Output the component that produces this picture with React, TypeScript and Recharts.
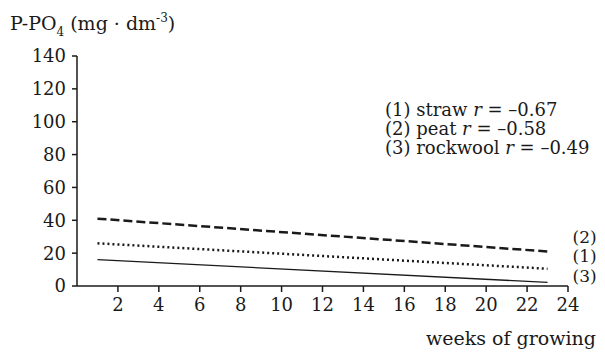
import React from 'react';
import { LineChart, Line, XAxis, YAxis, LabelList } from 'recharts';

const weeks = [1, 23];
const straw = [26, 10.5];
const peat = [41, 21];
const rockwool = [16, 2.2];
const xTicks = [2, 4, 6, 8, 10, 12, 14, 16, 18, 20, 22, 24];
const yTicks = [0, 20, 40, 60, 80, 100, 120, 140];
const legendLines = ['(1) straw', '(2) peat', '(3) rockwool'];
const legendR = ['–0.67', '–0.58', '–0.49'];

const data = weeks.map((w, i) => ({
  week: w,
  straw: straw[i],
  peat: peat[i],
  rockwool: rockwool[i],
}));

const FONT = 'DejaVu Serif';
const INK = '#1a1a1a';
const TICK = 18;
const TEXT = 19;

const endLabel = (text: string, dy: number) => (props: any) => {
  const { x, y, index } = props;
  if (index !== data.length - 1) return null;
  return (
    <text x={x + 25} y={y + dy} fontSize={17} fill={INK} dominantBaseline="middle" style={{ fontFamily: FONT }}>
      {text}
    </text>
  );
};

export default function App() {
  return (
    <div style={{ position: 'absolute', left: 0, top: 0, width: 605, height: 352, background: '#fff', fontFamily: FONT }}>
      <LineChart width={605} height={352} data={data} margin={{ top: 56, right: 37, bottom: 36, left: 0 }}>
        <XAxis
          dataKey="week"
          type="number"
          domain={[0, 24]}
          ticks={xTicks}
          interval={0}
          stroke={INK}
          strokeWidth={1.5}
          tickSize={6}
          tickMargin={6}
          height={30}
          tick={{ fill: INK, fontSize: TICK, style: { fontFamily: FONT } }}
        />
        <YAxis
          type="number"
          domain={[0, 140]}
          ticks={yTicks}
          interval={0}
          width={77}
          stroke={INK}
          strokeWidth={1.5}
          tickSize={5}
          tickMargin={6}
          tick={{ fill: INK, fontSize: TICK, style: { fontFamily: FONT } }}
        />
        <Line dataKey="peat" stroke={INK} strokeWidth={2.5} strokeDasharray="9 4" dot={false} isAnimationActive={false}>
          <LabelList dataKey="peat" content={endLabel('(2)', -13)} />
        </Line>
        <Line dataKey="straw" stroke={INK} strokeWidth={2.5} strokeDasharray="2 3" dot={false} isAnimationActive={false}>
          <LabelList dataKey="straw" content={endLabel('(1)', -11)} />
        </Line>
        <Line dataKey="rockwool" stroke={INK} strokeWidth={1.3} dot={false} isAnimationActive={false}>
          <LabelList dataKey="rockwool" content={endLabel('(3)', -5)} />
        </Line>
      </LineChart>
      <svg width={605} height={352} style={{ position: 'absolute', left: 0, top: 0, pointerEvents: 'none', fontFamily: FONT }}>
        <text x={10} y={30} fontSize={TEXT} fill={INK}>
          P-PO<tspan fontSize={12} dy={6}>4</tspan>
          <tspan dy={-6}> (mg · dm</tspan>
          <tspan fontSize={12} dy={-8}>-3</tspan>
          <tspan dy={8}>)</tspan>
        </text>
        {legendLines.map((t, i) => (
          <text key={t} x={385} y={116 + i * 19} fontSize={18} fill={INK}>
            {t} <tspan fontStyle="italic">r</tspan> = {legendR[i]}
          </text>
        ))}
        <text x={596} y={345} textAnchor="end" fontSize={TEXT} fill={INK}>
          weeks of growing
        </text>
      </svg>
    </div>
  );
}
